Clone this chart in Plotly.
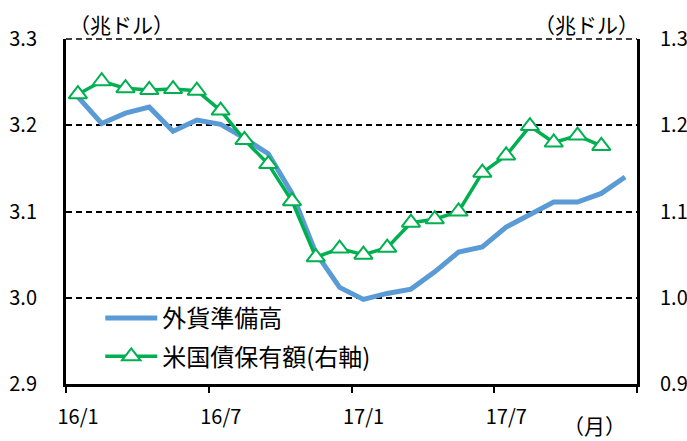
import plotly.graph_objects as go

months = ["16/1","16/2","16/3","16/4","16/5","16/6","16/7","16/8","16/9","16/10","16/11","16/12",
          "17/1","17/2","17/3","17/4","17/5","17/6","17/7","17/8","17/9","17/10","17/11","17/12"]
reserves = [3.233, 3.202, 3.214, 3.221, 3.193, 3.206, 3.201, 3.185, 3.167, 3.121, 3.052, 3.012,
            2.998, 3.005, 3.010, 3.030, 3.053, 3.059, 3.082, 3.096, 3.111, 3.111, 3.121, 3.140]
treasuries = [1.236, 1.251, 1.243, 1.241, 1.242, 1.240, 1.217, 1.183, 1.155, 1.112, 1.047, 1.057,
              1.050, 1.058, 1.087, 1.091, 1.100, 1.145, 1.165, 1.199, 1.180, 1.188, 1.176]
tick_vals = [0, 6, 12, 18, 24]
tick_text = ["16/1", "16/7", "17/1", "17/7", ""]
name_res = "外貨準備高"
name_tr = "米国債保有額(右軸)"

FONT = "Noto Sans CJK JP"
BLUE = "#5B9BD5"
GREEN = "#00B050"

x_res = [i + 0.5 for i in range(len(reserves))]
x_tr = [i + 0.5 for i in range(len(treasuries))]

fig = go.Figure()
fig.add_trace(go.Scatter(x=x_res, y=reserves, name=name_res, mode="lines",
                         line=dict(color=BLUE, width=5), legendgroup="a"))
fig.add_trace(go.Scatter(x=x_tr, y=treasuries, name=name_tr, mode="lines+markers", yaxis="y2",
                         line=dict(color=GREEN, width=3.5),
                         marker=dict(symbol="triangle-up", size=16, color="white",
                                     line=dict(color=GREEN, width=2)),
                         legendgroup="b"))

fig.update_layout(
    width=687, height=441,
    margin=dict(l=66, r=50, t=39, b=57, autoexpand=False),
    paper_bgcolor="white", plot_bgcolor="white",
    font=dict(family=FONT, size=20, color="black"),
    showlegend=True,
    legend=dict(x=0.06, y=0.255, xanchor="left", yanchor="top",
                bgcolor="rgba(0,0,0,0)", font=dict(size=24, family=FONT),
                tracegroupgap=4, itemwidth=52),
    xaxis=dict(range=[0, 24], tickvals=tick_vals, ticktext=tick_text, automargin=False,
               showline=True, linecolor="black", linewidth=3,
               ticks="outside", ticklen=6, tickwidth=2, tickcolor="black",
               showgrid=False, zeroline=False, ticklabelstandoff=7, ticklabelshift=12,
               tickfont=dict(size=20)),
    yaxis=dict(range=[2.9, 3.3], dtick=0.1, tickformat=".1f", automargin=False,
               showline=True, linecolor="black", linewidth=3,
               showgrid=True, gridcolor="black", gridwidth=1.5, griddash="6px,4px",
               zeroline=False, ticks="", ticklabelstandoff=22,
               tickfont=dict(size=20)),
    yaxis2=dict(range=[0.9, 1.3], dtick=0.1, tickformat=".1f", overlaying="y", side="right",
                automargin=False,
                showline=True, linecolor="black", linewidth=3,
                showgrid=False, zeroline=False, ticks="", ticklabelstandoff=16,
                tickfont=dict(size=20)),
    shapes=[dict(type="line", xref="paper", yref="paper", x0=0, x1=1, y0=1, y1=1,
                 line=dict(color="black", width=1.5, dash="6px,4px"))],
    annotations=[
        dict(text="（兆ドル）", xref="paper", yref="paper", x=0.097, y=1.0, xanchor="center",
             yanchor="middle", yshift=15, showarrow=False, font=dict(size=21)),
        dict(text="（兆ドル）", xref="paper", yref="paper", x=0.911, y=1.0, xanchor="center",
             yanchor="middle", yshift=15, showarrow=False, font=dict(size=21)),
        dict(text="（月）", xref="paper", yref="paper", x=0.925, y=0.0, xanchor="center",
             yanchor="middle", yshift=-41, showarrow=False, font=dict(size=21)),
    ],
)

fig.write_html("out.html",
               config={"displayModeBar": False},
               post_script="document.body.style.margin='0';document.body.style.overflow='hidden';")
